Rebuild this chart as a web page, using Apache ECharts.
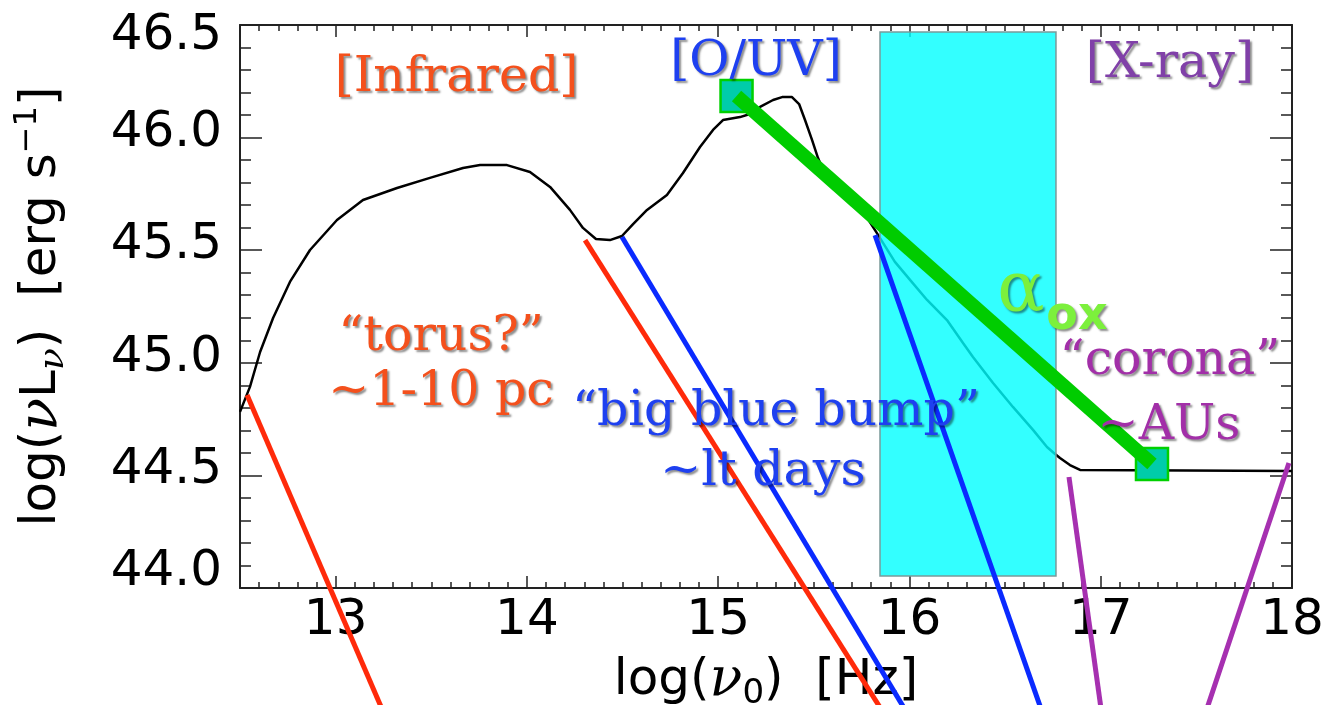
<!DOCTYPE html>
<html><head><meta charset="utf-8">
<script src="https://cdn.jsdelivr.net/npm/echarts@6/dist/echarts.min.js"></script>
<style>html,body{margin:0;padding:0;background:#fff}#c{width:1322px;height:705px}</style>
</head><body><div id="c"></div>
<script>
// ---- data (log nu [Hz], log nuLnu [erg/s]) ----
const sedLogNu = [12.500,12.552,12.605,12.673,12.761,12.866,13.007,13.143,13.321,13.493,
  13.666,13.755,13.896,14.016,14.121,14.225,14.293,14.361,14.434,14.497,
  14.555,14.628,14.732,14.816,14.905,14.973,15.025,15.114,15.166,15.219,
  15.287,15.334,15.386,15.423,15.454,15.491,15.522,15.559,15.637,15.715,
  15.773,15.830,15.924,16.003,16.092,16.196,16.280,16.332,16.437,16.541,
  16.646,16.719,16.761,16.787,16.839,16.892,18.000];
const sedLogL = [44.782,44.893,45.048,45.199,45.359,45.501,45.634,45.723,45.776,45.821,
  45.865,45.878,45.878,45.847,45.781,45.679,45.599,45.550,45.545,45.563,
  45.616,45.679,45.745,45.843,45.958,46.034,46.078,46.091,46.105,46.136,
  46.167,46.180,46.180,46.149,46.078,45.989,45.909,45.834,45.767,45.710,
  45.652,45.576,45.448,45.368,45.279,45.190,45.088,45.026,44.910,44.804,
  44.702,44.626,44.595,44.577,44.546,44.524,44.520];
const redLineA = [[12.537, 44.857], [13.274, 43.40]];
const redLineB = [[14.304, 45.545], [15.898, 43.40]];
const blueLineA = [[14.497, 45.559], [16.019, 43.40]];
const blueLineB = [[15.820, 45.567], [16.714, 43.40]];
const purpleLineA = [[16.834, 44.493], [17.012, 43.40]];
const purpleLineB = [[17.984, 44.555], [17.530, 43.40]];
const alphaOxPoints = [[15.096, 46.185], [17.268, 44.551]];
const uvBand = [[15.846, 16.766, 44.053, 46.469]];
const annotations = [
  {text: '[Infrared]', x: 13.632, y: 46.265, kind: 'ir'},
  {text: '[O/UV]', x: 15.198, y: 46.336, kind: 'uv'},
  {text: '[X-ray]', x: 17.362, y: 46.327, kind: 'xr'},
  {text: '\u201ctorus?\u201d', x: 13.551, y: 45.115, kind: 'ir'},
  {text: '~1-10 pc', x: 13.551, y: 44.870, kind: 'ir'},
  {text: '\u201cbig blue bump\u201d', x: 15.302, y: 44.782, kind: 'uv'},
  {text: '~lt days', x: 15.234, y: 44.515, kind: 'uv'},
  {text: '\u201ccorona\u201d', x: 17.362, y: 45.008, kind: 'co'},
  {text: '~AUs', x: 17.357, y: 44.719, kind: 'co'},
  {text: '\u03b1', x: 16.583, y: 45.314, kind: 'alpha'},
  {text: 'ox', x: 16.876, y: 45.203, kind: 'ox'}
];

// ---- styles ----
const textStyles = {
  ir: {fill: '#F4501C', fontSize: 49, fontFamily: 'DejaVu Serif'},
  uv: {fill: '#1E40F0', fontSize: 49, fontFamily: 'DejaVu Serif'},
  xr: {fill: '#8040A8', fontSize: 49, fontFamily: 'DejaVu Serif'},
  co: {fill: '#A22FA8', fontSize: 49, fontFamily: 'DejaVu Serif'},
  alpha: {fill: '#7CF03C', fontSize: 70, fontFamily: 'DejaVu Serif'},
  ox: {fill: '#7CF03C', fontSize: 46, fontFamily: 'DejaVu Sans', fontWeight: 'bold'}
};

const chart = echarts.init(document.getElementById('c'), null, {renderer: 'canvas'});
const axisCommon = {
  type: 'value',
  axisLine: {show: true, onZero: false, lineStyle: {color: '#222', width: 2}},
  splitLine: {show: false},
  minorSplitLine: {show: false}
};
function lineSeries(data, color, width, z) {
  return {type: 'line', data: data, symbol: 'none', clip: false, z: z, silent: true,
    lineStyle: {color: color, width: width}, animation: false};
}
const labelFont = {fontSize: 50, fontFamily: 'DejaVu Sans', color: '#000'};
const yLabelRich = {
  t: Object.assign({padding: [22, 0, 0, 0]}, labelFont),
  m: Object.assign({padding: [0, 0, 10, 0]}, labelFont),
  b: Object.assign({padding: [0, 0, 32, 0]}, labelFont)
};
chart.setOption({
  animation: false,
  backgroundColor: '#fff',
  grid: {left: 240, right: 30, top: 25, bottom: 117, containLabel: false, outerBoundsMode: 'none'},
  xAxis: [
    Object.assign({}, axisCommon, {
      position: 'bottom', min: 12.5, max: 18, splitNumber: 5,
      axisTick: {show: true, inside: true, length: 12, lineStyle: {color: '#222', width: 1.5}},
      minorTick: {show: true, splitNumber: 10, length: 6, lineStyle: {color: '#222', width: 1.5}},
      axisLabel: Object.assign({}, labelFont, {margin: 8, hideOverlap: false,
        formatter: v => Math.abs(v - Math.round(v)) < 1e-6 ? String(Math.round(v)) : ''}),
      name: 'log({nu|\u03bd}{sub|0})  [Hz]', nameLocation: 'middle', nameGap: 47,
      nameTextStyle: {fontSize: 50, fontFamily: 'DejaVu Sans', color: '#000', lineHeight: 60,
        rich: {
          nu: {fontSize: 54, fontFamily: 'DejaVu Serif', fontStyle: 'italic', lineHeight: 60, color: '#000'},
          sub: {fontSize: 34, fontFamily: 'DejaVu Sans', verticalAlign: 'bottom', lineHeight: 40, color: '#000'}
        }}
    }),
    Object.assign({}, axisCommon, {
      position: 'top', min: 12.5, max: 18, splitNumber: 5,
      axisTick: {show: true, inside: true, length: 12, lineStyle: {color: '#222', width: 1.5}},
      minorTick: {show: true, splitNumber: 10, length: 6, lineStyle: {color: '#222', width: 1.5}},
      axisLabel: {show: false}
    })
  ],
  yAxis: [
    Object.assign({}, axisCommon, {
      position: 'left', min: 44, max: 46.5, interval: 0.5,
      axisTick: {show: true, inside: true, length: 22, lineStyle: {color: '#222', width: 1.5}},
      minorTick: {show: true, splitNumber: 5, length: 11, lineStyle: {color: '#222', width: 1.5}},
      axisLabel: Object.assign({}, labelFont, {margin: 18, rich: yLabelRich,
        formatter: v => {
          const k = v >= 46.49 ? 't' : (v <= 44.01 ? 'b' : 'm');
          return '{' + k + '|' + v.toFixed(1) + '}';
        }}),
      name: 'log({nu|\u03bd}L{sub|\u03bd})  [erg s{sup|\u22121}]', nameLocation: 'middle', nameGap: 168,
      nameTextStyle: {fontSize: 50, fontFamily: 'DejaVu Sans', color: '#000', lineHeight: 60,
        rich: {
          nu: {fontSize: 54, fontFamily: 'DejaVu Serif', fontStyle: 'italic', lineHeight: 60, color: '#000'},
          sub: {fontSize: 36, fontFamily: 'DejaVu Serif', fontStyle: 'italic', verticalAlign: 'bottom', lineHeight: 40, color: '#000'},
          sup: {fontSize: 32, fontFamily: 'DejaVu Sans', verticalAlign: 'top', lineHeight: 30, color: '#000'}
        }}
    }),
    Object.assign({}, axisCommon, {
      position: 'right', min: 44, max: 46.5, interval: 0.5,
      axisTick: {show: true, inside: true, length: 22, lineStyle: {color: '#222', width: 1.5}},
      minorTick: {show: true, splitNumber: 5, length: 11, lineStyle: {color: '#222', width: 1.5}},
      axisLabel: {show: false}
    })
  ],
  series: [
    Object.assign(lineSeries(sedLogNu.map((x, i) => [x, sedLogL[i]]), '#000', 2.5, 2), {clip: true}),
    {
      type: 'custom', z: 3, silent: true, data: uvBand,
      encode: {x: [0, 1], y: [2, 3]},
      renderItem: function (params, api) {
        const p1 = api.coord([api.value(0), api.value(3)]);
        const p2 = api.coord([api.value(1), api.value(2)]);
        return {type: 'rect', shape: {x: p1[0], y: p1[1], width: p2[0] - p1[0], height: p2[1] - p1[1]},
          style: {fill: 'rgba(0,255,255,0.8)', stroke: '#7a9a9a', lineWidth: 1.5}};
      }
    },
    lineSeries(redLineA, '#FF2A0A', 5, 4),
    lineSeries(redLineB, '#FF2A0A', 5, 4),
    lineSeries(blueLineA, '#0A2AFF', 5, 4),
    lineSeries(blueLineB, '#0A2AFF', 5, 4),
    lineSeries(purpleLineA, '#A630B0', 5, 4),
    lineSeries(purpleLineB, '#A630B0', 5, 4),
    {type: 'scatter', data: alphaOxPoints, symbol: 'rect', symbolSize: 32, z: 5, silent: true,
      itemStyle: {color: '#00CCAA', borderColor: '#00D000', borderWidth: 2.5, opacity: 1}},
    lineSeries(alphaOxPoints, '#00CC00', 14, 6)
  ]
});

const graphics = annotations.map(a => {
  const p = chart.convertToPixel({xAxisIndex: 0, yAxisIndex: 0}, [a.x, a.y]);
  const s = textStyles[a.kind];
  return {
    type: 'text', x: p[0], y: p[1], z: 100, silent: true,
    style: Object.assign({
      text: a.text, align: 'center', verticalAlign: 'middle',
      textAlign: 'center', textVerticalAlign: 'middle',
      textShadowColor: 'rgba(0,0,0,0.45)', textShadowBlur: 2,
      textShadowOffsetX: 2, textShadowOffsetY: 2
    }, s)
  };
});
chart.setOption({graphic: graphics});
</script></body></html>
